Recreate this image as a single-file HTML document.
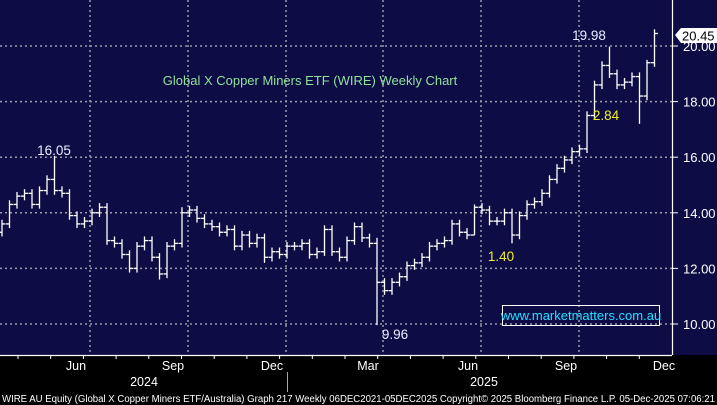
<!DOCTYPE html><html><head><meta charset="utf-8"><style>body{margin:0;background:#000}svg{display:block}text{font-family:"Liberation Sans",sans-serif}</style></head><body>
<svg id="s" width="717" height="405" xmlns="http://www.w3.org/2000/svg">
<rect width="717" height="405" fill="#000"/>
<rect x="0" y="0" width="717" height="355" fill="#0e0c45"/>
<g id="grid" stroke="#9a9aa8" stroke-width="1.5" stroke-dasharray="2,3"></g>
<g id="bars" stroke="#fff" stroke-width="1.3" fill="none"></g>
<line x1="672.5" y1="0" x2="672.5" y2="355" stroke="#fff" stroke-width="1.2"/>
<line x1="0" y1="355.5" x2="672" y2="355.5" stroke="#fff" stroke-width="1.2"/>
<g id="yax" fill="#fff" font-size="13"></g>
<g id="xt" stroke="#fff" stroke-width="1"></g>
<g fill="#fff" font-size="12.5">
<text x="76" y="370" text-anchor="middle">Jun</text><text x="173" y="370" text-anchor="middle">Sep</text><text x="272" y="370" text-anchor="middle">Dec</text><text x="368" y="370" text-anchor="middle">Mar</text><text x="468" y="370" text-anchor="middle">Jun</text><text x="566" y="370" text-anchor="middle">Sep</text><text x="664" y="370" text-anchor="middle">Dec</text>
<text x="144" y="386" text-anchor="middle">2024</text><text x="484" y="386" text-anchor="middle">2025</text>
</g>
<line x1="287.5" y1="372" x2="287.5" y2="392" stroke="#aaa"/>
<text x="2" y="402" font-size="10" fill="#fff" textLength="713" lengthAdjust="spacingAndGlyphs">WIRE AU Equity (Global X Copper Miners ETF/Australia) Graph 217 Weekly 06DEC2021-05DEC2025    Copyright© 2025 Bloomberg Finance L.P.    05-Dec-2025 07:06:21</text>
<text x="310" y="85" font-size="13" fill="#8fe29a" text-anchor="middle">Global X Copper Miners ETF (WIRE) Weekly Chart</text>
<g font-size="13.5" fill="#e8eeff" text-anchor="middle"><text x="54" y="155">16.05</text><text x="395" y="339">9.96</text><text x="589" y="40">19.98</text></g>
<g font-size="13.5" fill="#f0f020" text-anchor="middle"><text x="501" y="261">1.40</text><text x="606" y="120">2.84</text></g>
<rect x="502.5" y="305.5" width="157" height="20" fill="none" stroke="#fff"/>
<text x="581" y="320" font-size="13" fill="#22e0ff" text-anchor="middle">www.marketmatters.com.au</text>
<polygon points="675,35 681,28 717,28 717,43 681,43" fill="#fff"/>
<text x="682" y="40.5" font-size="13" fill="#000">20.45</text>
</svg>
<script>
const c=[13.6,14.3,14.6,14.7,14.3,14.8,15.2,14.8,14.7,13.9,13.6,13.7,14.0,14.2,13.0,12.9,12.5,12.0,12.8,13.0,12.4,11.8,12.8,12.9,14.0,14.1,13.8,13.6,13.5,13.3,13.4,12.8,13.2,12.9,13.1,12.4,12.6,12.5,12.8,12.8,12.9,12.5,12.6,13.4,12.6,12.4,13.0,13.5,13.1,12.9,11.5,11.2,11.5,11.7,12.1,12.2,12.4,12.8,12.9,13.0,13.6,13.3,13.2,14.2,14.1,13.7,13.7,14.0,13.2,13.9,14.3,14.4,14.7,15.2,15.6,15.9,16.2,16.3,17.5,18.6,19.3,19.0,18.6,18.7,18.9,18.2,19.4,20.45];
const Y=v=>46+(20-v)*27.8,NS="http://www.w3.org/2000/svg";
function add(g,tag,a){const e=document.createElementNS(NS,tag);for(const k in a)e.setAttribute(k,a[k]);document.getElementById(g).appendChild(e);return e;}
for(let v=10;v<=20;v+=2){const y=Y(v);add('grid','line',{x1:0,y1:y,x2:672,y2:y});add('yax','text',{x:683,y:y+5}).textContent=v.toFixed(2);add('xt','line',{x1:672,y1:y,x2:678,y2:y});}
[90,188,286,383,481,579].forEach(x=>add('grid','line',{x1:x,y1:0,x2:x,y2:355}));
for(let x=18;x<672;x+=32.7)add('xt','line',{x1:x,y1:355,x2:x,y2:359});
const hi={7:16.05,81:19.98,50:13.1,24:14.2,63:14.3,86:19.5},lo={50:9.96,85:17.2,35:12.2,21:11.6,68:12.9,63:13.2};
let o=13.3;
c.forEach((v,i)=>{const x=2+7.5*i;let h=Math.max(o,v)+0.15,l=Math.min(o,v)-0.15;if(hi[i])h=hi[i];if(lo[i])l=lo[i];
add('bars','line',{x1:x,y1:Y(h),x2:x,y2:Y(l)});add('bars','line',{x1:x-3.5,y1:Y(o),x2:x,y2:Y(o)});add('bars','line',{x1:x,y1:Y(v),x2:x+3.5,y2:Y(v)});o=v;});
</script>
</body></html>
